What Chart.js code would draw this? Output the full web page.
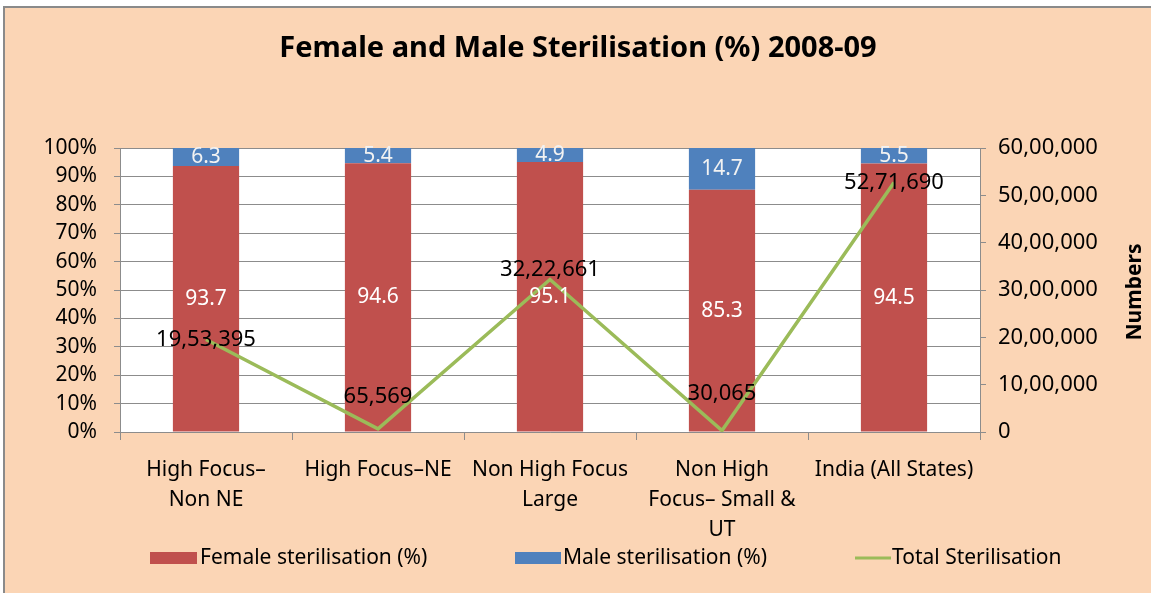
<!DOCTYPE html>
<html>
<head>
<meta charset="utf-8">
<script src="https://cdn.jsdelivr.net/npm/chart.js@4.4.0/dist/chart.umd.min.js"></script>
<style>
  body { margin: 0; background: #fff; }
  #box {
    position: absolute; left: 3px; top: 6px;
    width: 1148px; height: 587px; box-sizing: border-box;
    border-top: 2px solid #8a8a8a; border-left: 2px solid #8a8a8a;
    background: #fbd5b5;
  }
  canvas { display: block; }
</style>
</head>
<body>
<div id="box"><canvas id="myChart" width="1146" height="585"></canvas></div>
<script>
// data
const categories = [
  ['High Focus–', 'Non NE'],
  'High Focus–NE',
  ['Non High Focus', 'Large'],
  ['Non High', 'Focus– Small &', 'UT'],
  'India (All States)'
];
const femalePct = [93.7, 94.6, 95.1, 85.3, 94.5];
const malePct = [6.3, 5.4, 4.9, 14.7, 5.5];
const totalSterilisation = [1953395, 65569, 3222661, 30065, 5271690];
const leftTickLabels = ['0%', '10%', '20%', '30%', '40%', '50%', '60%', '70%', '80%', '90%', '100%'];
const rightTickLabels = ['0', '10,00,000', '20,00,000', '30,00,000', '40,00,000', '50,00,000', '60,00,000'];

const FONT = "'Noto Sans', 'Open Sans', sans-serif";
const gridColor = '#8c8c8c';

// indian style grouping: 52,71,690
function fmtIN(n) {
  const s = String(Math.round(n));
  if (s.length <= 3) return s;
  let last3 = s.slice(-3);
  let rest = s.slice(0, -3);
  rest = rest.replace(/\B(?=(\d{2})+(?!\d))/g, ',');
  return rest + ',' + last3;
}

// little vertical nudges for the line labels, like excel did it
const lineLabelShift = [0, -32, -10, -37, 0];

const extras = {
  id: 'extras',
  beforeDraw(chart) {
    const a = chart.chartArea;
    const c = chart.ctx;
    c.save();
    c.fillStyle = '#ffffff';
    c.fillRect(a.left, a.top, a.right - a.left, a.bottom - a.top);
    c.restore();
  },
  afterDatasetsDraw(chart) {
    const c = chart.ctx;
    c.save();
    c.textAlign = 'center';
    c.textBaseline = 'middle';
    // bar labels
    [0, 1].forEach(function (di) {
      const meta = chart.getDatasetMeta(di);
      const vals = chart.data.datasets[di].data;
      meta.data.forEach(function (bar, i) {
        c.font = '21px ' + FONT;
        c.fillStyle = di === 0 ? '#ffffff' : '#f2f2f2';
        c.fillText(vals[i].toFixed(1), bar.x, (bar.y + bar.base) / 2);
      });
    });
    // line labels
    const lm = chart.getDatasetMeta(2);
    lm.data.forEach(function (pt, i) {
      c.font = '22px ' + FONT;
      c.fillStyle = '#000000';
      c.fillText(fmtIN(totalSterilisation[i]), pt.x, pt.y + lineLabelShift[i]);
    });
    c.restore();
  },
  afterDraw(chart) {
    const c = chart.ctx;
    c.save();
    // title
    c.fillStyle = '#000';
    c.textAlign = 'center';
    c.textBaseline = 'middle';
    c.font = 'bold 29px ' + FONT;
    c.fillText('Female and Male Sterilisation (%) 2008-09', chart.width / 2, 41);
    // right axis title
    c.save();
    c.translate(1130, 284);
    c.rotate(-Math.PI / 2);
    c.font = 'bold 21px ' + FONT;
    c.fillText('Numbers', 0, 0);
    c.restore();
    // legend
    const ly = 550;
    c.textAlign = 'left';
    c.font = '21px ' + FONT;
    c.fillStyle = '#c0504d';
    c.fillRect(145, ly - 6, 47, 12);
    c.fillStyle = '#000';
    c.fillText('Female sterilisation (%)', 195, ly);
    c.fillStyle = '#4f81bd';
    c.fillRect(510, ly - 6, 46, 12);
    c.fillStyle = '#000';
    c.fillText('Male sterilisation (%)', 558, ly);
    c.strokeStyle = '#9bbb59';
    c.lineWidth = 3;
    c.beginPath();
    c.moveTo(850, ly);
    c.lineTo(886, ly);
    c.stroke();
    c.fillText('Total Sterilisation', 887, ly);
    c.restore();
  }
};

const ctx = document.getElementById('myChart').getContext('2d');
const myChart = new Chart(ctx, {
  data: {
    labels: categories,
    datasets: [{
      type: 'bar',
      label: 'Female sterilisation (%)',
      data: femalePct,
      backgroundColor: '#c0504d',
      yAxisID: 'y',
      order: 1,
      categoryPercentage: 1,
      barPercentage: 0.385
    }, {
      type: 'bar',
      label: 'Male sterilisation (%)',
      data: malePct,
      backgroundColor: '#4f81bd',
      yAxisID: 'y',
      order: 1,
      categoryPercentage: 1,
      barPercentage: 0.385
    }, {
      type: 'line',
      label: 'Total Sterilisation',
      data: totalSterilisation,
      borderColor: '#9bbb59',
      borderWidth: 3.5,
      pointRadius: 0,
      tension: 0,
      yAxisID: 'y1',
      order: 0
    }]
  },
  options: {
    responsive: false,
    animation: false,
    layout: { padding: { top: 140, left: 0, right: 0, bottom: 0 } },
    plugins: {
      legend: { display: false },
      title: { display: false },
      tooltip: { enabled: false }
    },
    scales: {
      x: {
        stacked: true,
        afterFit: function (s) { s.height = 161; },
        grid: {
          offset: true,
          drawOnChartArea: false,
          color: gridColor,
          tickLength: 8
        },
        border: { color: gridColor },
        ticks: {
          color: '#000',
          padding: 15,
          maxRotation: 0,
          autoSkip: false,
          font: { family: FONT, size: 21, lineHeight: 1.43 }
        }
      },
      y: {
        stacked: true,
        min: 0,
        max: 100,
        afterFit: function (s) { s.width = 115; },
        grid: { color: gridColor, tickLength: 6 },
        border: { color: gridColor },
        ticks: {
          stepSize: 10,
          padding: 17,
          color: '#000',
          font: { family: FONT, size: 21 },
          callback: function (v, i) { return leftTickLabels[i]; }
        }
      },
      y1: {
        position: 'right',
        min: 0,
        max: 6000000,
        afterFit: function (s) { s.width = 171; },
        grid: { drawOnChartArea: false, color: gridColor, tickLength: 6 },
        border: { color: gridColor },
        ticks: {
          stepSize: 1000000,
          padding: 12,
          color: '#000',
          font: { family: FONT, size: 22 },
          callback: function (v, i) { return rightTickLabels[i]; }
        }
      }
    }
  },
  plugins: [extras]
});
</script>
</body>
</html>
